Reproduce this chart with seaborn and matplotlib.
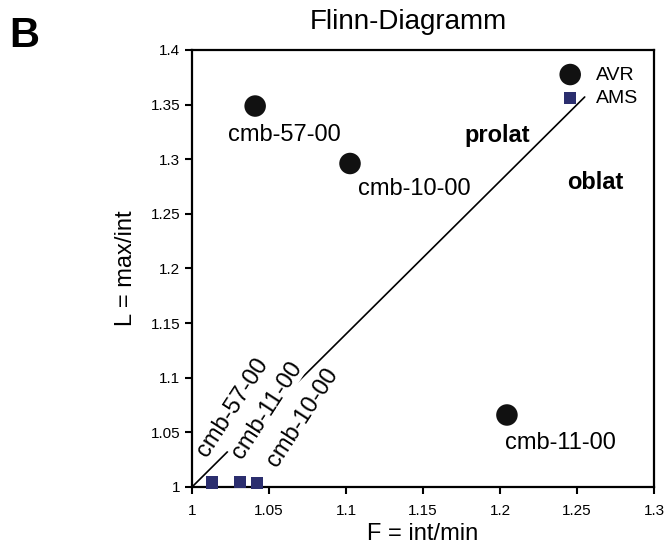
import matplotlib
matplotlib.use("Agg")
import matplotlib.pyplot as plt
import seaborn as sns

# AVR points (F, L)
avr_names = ["cmb-57-00", "cmb-10-00", "cmb-11-00"]
avr_f = [1.041, 1.1026, 1.2045]
avr_l = [1.3487, 1.2961, 1.0659]

# AMS points
ams_names = ["cmb-57-00", "cmb-11-00", "cmb-10-00"]
ams_f = [1.0127, 1.0312, 1.0425]
ams_l = [1.0041, 1.005, 1.0037]

# dividing line
line_f = [1.0, 1.255]
line_l = [1.0, 1.357]

x_ticks = [1, 1.05, 1.1, 1.15, 1.2, 1.25, 1.3]
x_labels = ["1", "1.05", "1.1", "1.15", "1.2", "1.25", "1.3"]
y_ticks = [1, 1.05, 1.1, 1.15, 1.2, 1.25, 1.3, 1.35, 1.4]
y_labels = ["1", "1.05", "1.1", "1.15", "1.2", "1.25", "1.3", "1.35", "1.4"]

sns.set_style("ticks")
plt.rcParams["font.family"] = ["Liberation Sans", "DejaVu Sans"]
plt.rcParams["text.color"] = "black"
plt.rcParams["axes.labelcolor"] = "black"
plt.rcParams["xtick.color"] = "black"
plt.rcParams["ytick.color"] = "black"
plt.rcParams["axes.edgecolor"] = "black"

fig = plt.figure(figsize=(6.66, 5.44), dpi=100)
ax = fig.add_axes([0.2883, 0.1048, 0.6937, 0.8033])

ax.plot(line_f, line_l, color="black", lw=1.2, zorder=1)

sns.scatterplot(x=avr_f, y=avr_l, marker="o", s=240, color="#111111",
                edgecolor="none", label="AVR", ax=ax, zorder=3)
sns.scatterplot(x=ams_f, y=ams_l, marker="s", s=75, color="#2b2e6e",
                edgecolor="none", label="AMS", ax=ax, zorder=3, clip_on=False)

# point labels
ax.text(1.0234, 1.3222, avr_names[0], fontsize=17, ha="left", va="center")
ax.text(1.1078, 1.2728, avr_names[1], fontsize=17, ha="left", va="center")
ax.text(1.2032, 1.0403, avr_names[2], fontsize=17, ha="left", va="center")

# rotated AMS labels along the line
ax.text(1.0266, 1.0732, ams_names[0], fontsize=17, rotation=57,
        ha="center", va="center", zorder=2)
ax.text(1.0487, 1.0705, ams_names[1], fontsize=17, rotation=57,
        ha="center", va="center", zorder=2,
        bbox=dict(fc="white", ec="none", pad=0.5))
ax.text(1.0721, 1.0632, ams_names[2], fontsize=17, rotation=57,
        ha="center", va="center", zorder=2,
        bbox=dict(fc="white", ec="none", pad=0.5))

ax.text(1.1984, 1.3213, "prolat", fontsize=17, fontweight="bold",
        ha="center", va="center")
ax.text(1.2617, 1.2783, "oblat", fontsize=17, fontweight="bold",
        ha="center", va="center")

ax.set_xlim(1, 1.3)
ax.set_ylim(1, 1.4)
ax.set_xticks(x_ticks)
ax.set_xticklabels(x_labels)
ax.set_yticks(y_ticks)
ax.set_yticklabels(y_labels)
ax.tick_params(axis="both", labelsize=11, width=1.5, length=5, direction="out")
ax.tick_params(axis="x", pad=7)
for s in ax.spines.values():
    s.set_linewidth(1.6)
    s.set_visible(True)

ax.set_xlabel("F = int/min", fontsize=17, labelpad=4)
ax.set_ylabel("L = max/int", fontsize=17, labelpad=10)

leg = ax.legend(loc="upper right", bbox_to_anchor=(0.99, 0.99), frameon=False,
                fontsize=14, handletextpad=0.3, labelspacing=0.3, borderaxespad=0.2)

fig.text(408 / 666, 1 - 22 / 544, "Flinn-Diagramm", fontsize=20, ha="center", va="center")
fig.text(24 / 666, 1 - 36 / 544, "B", fontsize=30, fontweight="bold", ha="center", va="center")

fig.savefig("out.png", dpi=100)
